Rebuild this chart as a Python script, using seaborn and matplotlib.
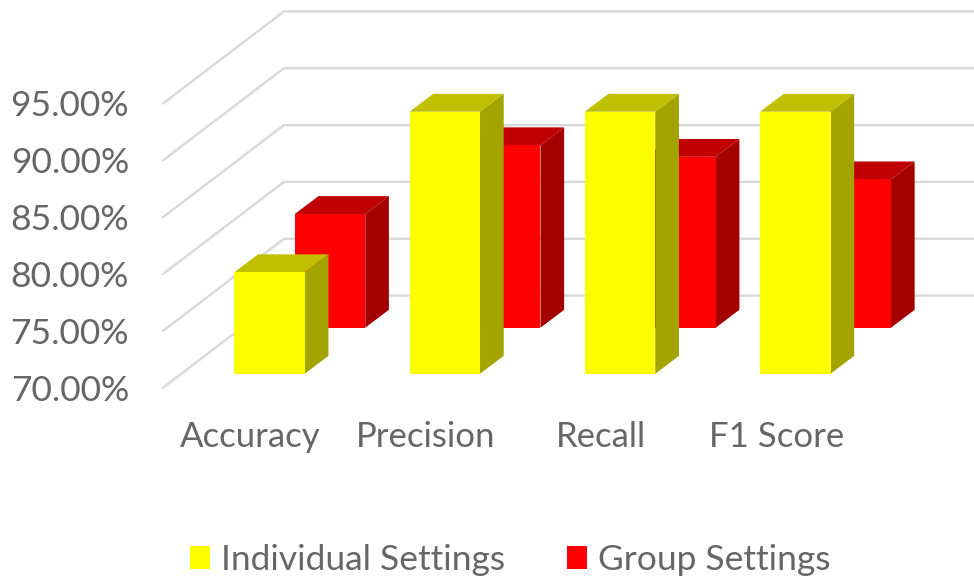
import matplotlib
matplotlib.use("Agg")
import matplotlib.pyplot as plt
from matplotlib.patches import Polygon
import pandas as pd
import seaborn as sns

categories = ["Accuracy", "Precision", "Recall", "F1 Score"]
individual_settings = [78.93, 93.05, 93.05, 93.05]
group_settings = [80.0, 86.05, 85.03, 83.05]
y_ticks = [70, 75, 80, 85, 90, 95]

FACE = {"Individual Settings": "#FFFF00", "Group Settings": "#FF0000"}
SIDE = {"Individual Settings": "#A4A400", "Group Settings": "#A40000"}
TOP = {"Individual Settings": "#C0C000", "Group Settings": "#C00000"}
TEXT = "#666666"
GRID = "#D9D9D9"

# Oblique projection, in data units: how far the back wall sits from the front
WALL_DX, WALL_DY = 0.690, 8.10
# Where each series stands inside the floor, and how deep its box is
SHIFT = {"Individual Settings": (0.108, 1.23), "Group Settings": (0.453, 5.28)}
BOX_DX, BOX_DY = 0.135, 1.57
BAR_WIDTH = 0.402
BASE = 70

sns.set_theme(style="white")
plt.rcParams["font.family"] = ["Lato", "DejaVu Sans"]

df = pd.DataFrame({
    "metric": categories * 2,
    "score": individual_settings + group_settings,
    "setting": ["Individual Settings"] * 4 + ["Group Settings"] * 4,
})

fig = plt.figure(figsize=(9.74, 5.79), dpi=100)
W, H = 974, 579
ax = fig.add_axes([163 / W, (H - 387.7) / H, 701 / W, 284.2 / H])

sns.barplot(data=df, x="metric", y="score", hue="setting", palette=FACE,
            dodge=False, width=BAR_WIDTH, legend=False, ax=ax,
            saturation=1, linewidth=0)

ax.set_xlim(-0.5, 3.5)
ax.set_ylim(BASE, 95)

# Floor-to-wall gridlines
x0 = ax.get_xlim()[0]
for tick in y_ticks:
    ax.plot([x0, x0 + WALL_DX, 3.5 + WALL_DX],
            [tick, tick + WALL_DY, tick + WALL_DY],
            color=GRID, lw=1.7, clip_on=False, zorder=1,
            solid_joinstyle="miter")

# Turn each flat bar into a box: front face plus side and top faces
names = list(FACE)
for container, name in zip(ax.containers, names):
    dx, dy = SHIFT[name]
    layer = 4 if name == "Individual Settings" else 2
    for bar in container:
        value = bar.get_height()
        left = bar.get_x() + dx
        right = left + bar.get_width()
        bottom = BASE + dy
        top = value + dy
        bar.set_x(left)
        bar.set_y(bottom)
        bar.set_height(value - BASE)
        bar.set_clip_on(False)
        bar.set_zorder(layer + 0.5)
        ax.add_patch(Polygon(
            [(right, bottom), (right + BOX_DX, bottom + BOX_DY),
             (right + BOX_DX, top + BOX_DY), (right, top)],
            closed=True, fc=SIDE[name], ec="none", clip_on=False, zorder=layer))
        ax.add_patch(Polygon(
            [(left, top), (left + BOX_DX, top + BOX_DY),
             (right + BOX_DX, top + BOX_DY), (right, top)],
            closed=True, fc=TOP[name], ec="none", clip_on=False, zorder=layer))

ax.set_xlabel("")
ax.set_ylabel("")
ax.set_yticks(y_ticks)
ax.set_yticklabels([f"{t:.2f}%" for t in y_ticks])
ax.tick_params(axis="y", length=0, pad=24.5, labelsize=25.5, labelcolor=TEXT)
ax.tick_params(axis="x", length=0, pad=24, labelsize=25, labelcolor=TEXT)
sns.despine(ax=ax, left=True, bottom=True)
ax.patch.set_visible(False)

handles = [c[0] for c in ax.containers]
leg = fig.legend(handles, names, ncol=2, frameon=False, loc="center",
                 bbox_to_anchor=(510 / W, (H - 560) / H),
                 fontsize=25.5, labelcolor=TEXT, handlelength=0.58,
                 handleheight=0.58, handletextpad=0.3, columnspacing=1.75)

fig.savefig("out.png", dpi=100, facecolor="white")
